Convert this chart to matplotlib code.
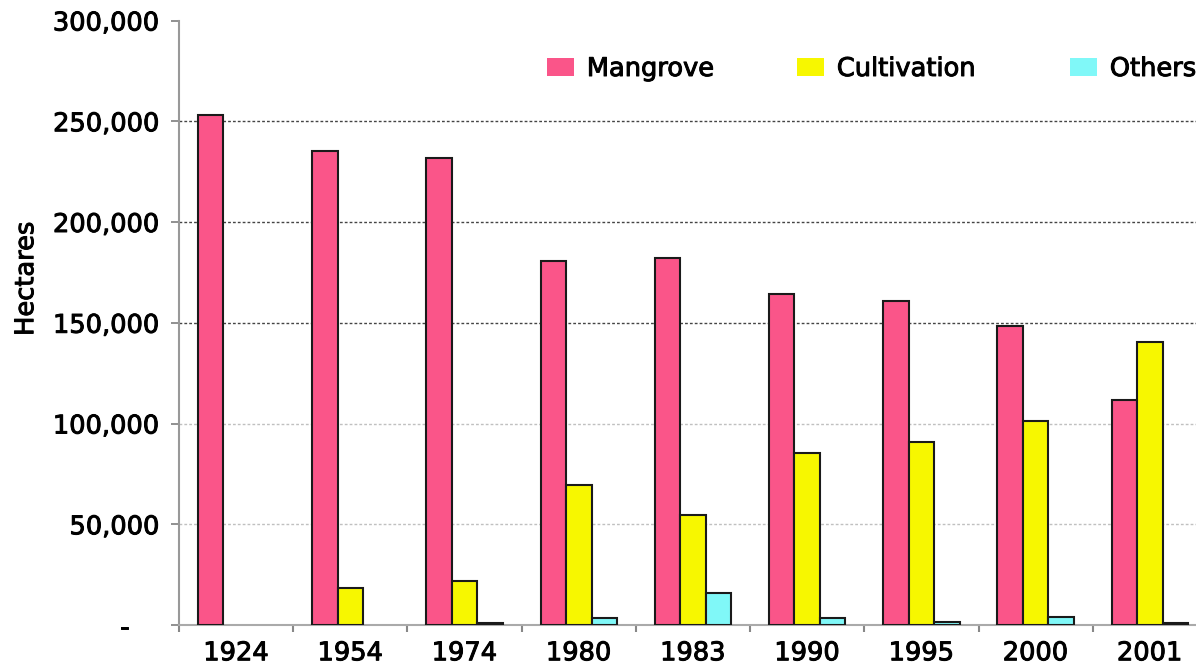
import numpy as np
import matplotlib
matplotlib.use("Agg")
import matplotlib.pyplot as plt
import matplotlib.patheffects as pe
from matplotlib.patches import Patch
from matplotlib.ticker import FixedLocator, FuncFormatter
from matplotlib.transforms import ScaledTranslation

# hectares by land use
years = ["1924", "1954", "1974", "1980", "1983", "1990", "1995", "2000", "2001"]
mangrove = [253300, 235100, 231800, 180800, 182300, 164400, 160900, 148500, 111800]
cultivation = [0, 18500, 22000, 69500, 54600, 85400, 90900, 101300, 140600]
others = [0, 0, 800, 3300, 15700, 3300, 1300, 3800, 800]

series = [("Mangrove", mangrove, "#FA5589"),
          ("Cultivation", cultivation, "#F7F700"),
          ("Others", others, "#80F8F8")]

plt.rcParams["font.family"] = ["DejaVu Sans"]
fs = 18.5
heavy = [pe.withStroke(linewidth=0.7, foreground="black")]

fig = plt.figure(figsize=(11.96, 6.65), dpi=100)
# axes runs a little past the right edge, as in the original crop
ax = fig.add_axes([179 / 1196, 40 / 665, 1028 / 1196, 604.5 / 665])

x = np.arange(len(years))
w = 0.223
for k, (name, vals, col) in enumerate(series):
    bars = ax.bar(x + (k - 1) * w, vals, w, color=col, edgecolor="#1a1a1a",
                  linewidth=1.5, zorder=3)
    for b, v in zip(bars, vals):
        if v == 0:
            b.set_visible(False)

ax.set_xlim(-0.5, len(years) - 0.5)
ax.set_ylim(0, 300000)

# gridlines: darker in the upper part, faint below
for y in [50000, 100000]:
    ax.axhline(y, color="#c0c0c0", lw=1.0, ls=(0, (2, 1.5)), zorder=1)
for y in [150000, 200000, 250000]:
    ax.axhline(y, color="#444444", lw=1.0, ls=(0, (2, 1.5)), zorder=1)

ax.yaxis.set_major_locator(FixedLocator(np.arange(0, 300001, 50000)))
ax.yaxis.set_major_formatter(FuncFormatter(lambda v, p: "-" if v == 0 else f"{int(v):,}"))
ax.tick_params(axis="y", length=5.8, width=1.3, color="#888888", pad=7.9,
               labelsize=fs, labelcolor="black")

ax.set_xticks(x)
ax.set_xticklabels(years)
ax.set_xticks(np.arange(-0.5, len(years), 1.0), minor=True)
ax.tick_params(axis="x", which="major", length=0, pad=11, labelsize=fs)
ax.tick_params(axis="x", which="minor", length=5, width=1.5, color="#888888")

# zero label sits further left
zl = ax.get_yticklabels()[0]
zl.set_transform(zl.get_transform() + ScaledTranslation(-0.31, 0, fig.dpi_scale_trans))

for s in ["top", "right"]:
    ax.spines[s].set_visible(False)
ax.spines["left"].set_color("#999999")
ax.spines["left"].set_linewidth(1.5)
ax.spines["bottom"].set_color("#aaaaaa")
ax.spines["bottom"].set_linewidth(1.5)

ax.set_ylabel("Hectares", fontsize=fs)
ax.yaxis.set_label_coords(-0.136, 0.573)

texts = ax.get_xticklabels() + ax.get_yticklabels() + [ax.yaxis.label]

# legend entries placed one by one
leg_x = [547, 797, 1070]
for (name, vals, col), lx in zip(series, leg_x):
    lg = fig.legend([Patch(facecolor=col, edgecolor="none")], [name],
                    loc="center left", bbox_to_anchor=(lx / 1196, 1 - 69 / 665),
                    frameon=False, fontsize=fs, borderpad=0, borderaxespad=0,
                    handlelength=1.05, handleheight=0.7, handletextpad=0.5)
    texts += lg.get_texts()

for t in texts:
    t.set_path_effects(heavy)

fig.savefig("out.png", dpi=100)
